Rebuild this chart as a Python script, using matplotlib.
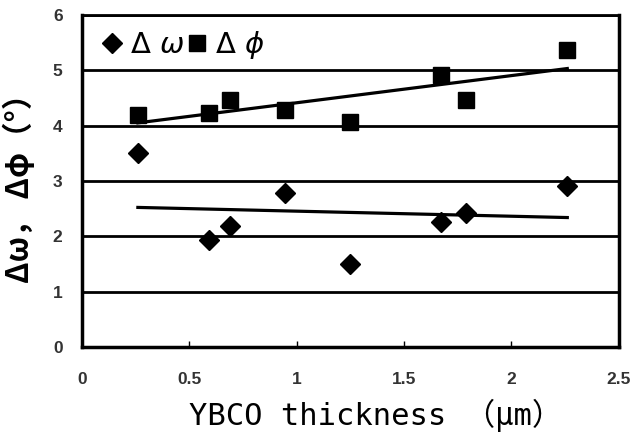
import matplotlib.pyplot as plt
import numpy as np

# data
thickness = [0.26, 0.59, 0.69, 0.945, 1.25, 1.67, 1.79, 2.26]
d_omega = [3.51, 1.93, 2.19, 2.78, 1.50, 2.26, 2.42, 2.91]
d_phi = [4.19, 4.23, 4.47, 4.29, 4.07, 4.92, 4.47, 5.37]
xticks = [0, 0.5, 1, 1.5, 2, 2.5]
xticklabels = ['0', '0.5', '1', '1.5', '2', '2.5']
yticks = [0, 1, 2, 3, 4, 5, 6]

fig = plt.figure(figsize=(6.36, 4.36), dpi=100)
ax = fig.add_axes([0.129, 0.204, 0.844, 0.762])

x = np.array(thickness)
ax.plot(x, d_omega, 'D', color='black', ms=10, label='Δ $\\omega$')
ax.plot(x, d_phi, 's', color='black', ms=11, label='Δ $\\phi$')

# linear trend lines
xx = np.array([min(thickness), max(thickness)])
for y in (d_omega, d_phi):
    p = np.polyfit(x, y, 1)
    ax.plot(xx, np.polyval(p, xx), '-', color='black', lw=2.3)

ax.set_xlim(0, 2.5)
ax.set_ylim(0, 6)
ax.set_yticks(yticks)
ax.set_xticks(xticks)
ax.set_xticklabels(xticklabels)
for yv in yticks[1:]:
    ax.axhline(yv, color='black', lw=2, zorder=0)

for s in ax.spines.values():
    s.set_linewidth(2.5)
ax.spines['top'].set_linewidth(2)

ax.tick_params(axis='x', direction='in', length=4, width=1, pad=18,
               labelsize=12.5, labelcolor='#333333')
ax.tick_params(axis='y', length=0, pad=14, labelsize=12.5, labelcolor='#333333')
for lbl in ax.get_xticklabels() + ax.get_yticklabels():
    lbl.set_fontweight('bold')
    lbl.set_family('Liberation Sans')

ax.set_xlabel('YBCO thickness （μm）', fontsize=22,
              family=['DejaVu Sans Mono', 'Noto Sans CJK JP'])
ax.xaxis.set_label_coords(0.547, -0.155)
ax.set_ylabel('Δω， Δφ（°）', fontsize=22, fontweight='bold',
              family=['Noto Sans CJK JP', 'DejaVu Sans'])
ax.yaxis.set_label_coords(-0.086, 0.5)

ax.legend(loc='upper left', ncol=2, frameon=False, fontsize=21,
          handlelength=0.7, handletextpad=0.25, columnspacing=0.1,
          borderaxespad=0.1, bbox_to_anchor=(0.01, 1.0))

plt.savefig('out.png', dpi=100)
